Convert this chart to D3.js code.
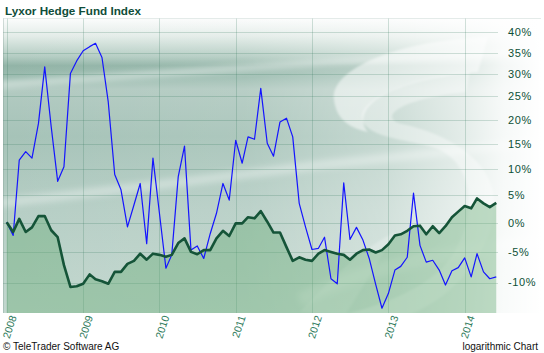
<!DOCTYPE html>
<html>
<head>
<meta charset="utf-8">
<script src="https://cdn.jsdelivr.net/npm/d3@7"></script>
<style>
  body { margin: 0; background: #fff; }
  text { font-family: "Liberation Sans", Arial, sans-serif; }
</style>
</head>
<body>
<script>
//data: monthly values from Jan 2008, percent change (log chart)
var startMonth = "2008-01";
var fundValues = [0.1,-2.2,11.7,13.4,12.1,19.2,31.7,18.5,7.6,10.4,30.2,33.1,
    35.5,36.5,37.3,33.9,23.8,8.9,6.0,-0.7,3.2,7.2,-3.6,12.1,
    1.7,-7.7,-5.5,8.5,14.5,-4.7,-4.0,-6.1,-1.9,1.7,7.2,4.1,
    15.7,11.1,16.4,15.9,26.8,15.1,12.5,19.5,20.3,16.4,3.5,-0.7,
    -4.6,-4.4,-2.5,-9.4,-10.2,7.3,-2.9,-0.8,-3.0,-6.1,-10.3,-14.0,
    -11.7,-8.0,-7.4,-5.9,5.4,-3.9,-6.7,-6.4,-8.0,-10.4,-8.1,-7.6,
    -6.0,-9.1,-5.3,-8.3,-9.4,-9.1];
var indexValues = [0.1,-1.6,0.7,-1.6,-0.8,1.2,1.2,-1.3,-2.5,-7.2,-10.7,-10.6,
    -10.2,-8.7,-9.5,-9.8,-10.2,-8.3,-8.3,-7.0,-6.5,-5.3,-6.3,-5.3,
    -5.5,-5.8,-5.5,-3.5,-2.7,-5.0,-5.4,-4.7,-4.7,-2.7,-1.4,-2.3,
    -0.1,-0.1,1.0,0.8,2.1,0.2,-1.7,-1.7,-4.2,-6.5,-5.9,-6.3,
    -6.5,-5.3,-4.7,-5.0,-5.3,-5.5,-6.3,-5.3,-4.7,-4.6,-5.1,-4.7,
    -3.7,-2.2,-2.0,-1.4,-0.6,-0.5,-2.0,-0.6,-1.8,-0.6,1.0,2.0,
    3.0,2.6,4.4,3.5,2.8,3.6];
var yearLabels = ["2008","2009","2010","2011","2012","2013","2014"];
var yTicks = [-10,-5,0,5,10,15,20,25,30,35,40];

//create svg
var svg = d3.select("body").append("svg")
    .attr("width", 544)
    .attr("height", 353)

//plot box
var plot = {left: 3, top: 18.5, right: 498, bottom: 313};

var parseMonth = d3.timeParse("%Y-%m");
var start = parseMonth(startMonth);
var data = fundValues.map(function(v, i) {
    return {date: d3.timeMonth.offset(start, i), fund: v, index: indexValues[i]};
});

//scales
var x = d3.scaleTime()
    .domain([parseMonth("2008-01"), parseMonth("2014-01")])
    .range([6.7, 464.7]);
var y = d3.scaleLog()
    .domain([0.9, 1.4])
    .range([282.5, 32.3]);
var yv = function(p) { return y(1 + p / 100); };

var defs = svg.append("defs");

//background gradient
var bg = defs.append("linearGradient").attr("id", "bgv")
    .attr("x1", 0).attr("y1", 0).attr("x2", 0).attr("y2", 1);
[[0, "#fbfcfc"], [0.06, "#e3ece8"], [0.13, "#b3ccc2"], [0.16, "#92b4a7"],
 [0.2, "#9dbdb1"], [0.24, "#b2cac1"], [0.4, "#a6c3b8"], [0.65, "#b6cec5"], [1, "#c2d7ce"]]
    .forEach(function(s) { bg.append("stop").attr("offset", s[0]).attr("stop-color", s[1]); });

var fade = defs.append("linearGradient").attr("id", "fadeh")
    .attr("x1", 0).attr("y1", 0).attr("x2", 1).attr("y2", 0);
[[0, 0], [0.45, 0.08], [0.7, 0.35], [0.86, 0.7], [0.93, 0.9], [1, 1]]
    .forEach(function(s) { fade.append("stop").attr("offset", s[0]).attr("stop-color", "#fff").attr("stop-opacity", s[1]); });

defs.append("filter").attr("id", "blur")
    .attr("x", "-20%").attr("y", "-20%").attr("width", "140%").attr("height", "140%")
  .append("feGaussianBlur").attr("stdDeviation", 3);
defs.append("filter").attr("id", "soft")
  .append("feGaussianBlur").attr("stdDeviation", 1);
defs.append("clipPath").attr("id", "clip")
  .append("rect").attr("x", 3).attr("y", plot.top).attr("width", 538).attr("height", plot.bottom - plot.top);

var back = svg.append("g").attr("clip-path", "url(#clip)");
back.append("rect")
    .attr("x", 3).attr("y", plot.top)
    .attr("width", 538).attr("height", plot.bottom - plot.top)
    .attr("fill", "url(#bgv)");

//light streaks
var streaks = [
    {d: "M-20,86 C80,80 200,70 330,62 L560,50", w: 5, o: 0.55},
    {d: "M-20,205 C80,195 200,180 320,165 L560,140", w: 9, o: 0.35},
    {d: "M300,300 C360,270 440,250 560,240", w: 14, o: 0.3}
];
streaks.forEach(function(s) {
    back.append("path").attr("d", s.d)
        .attr("fill", "none").attr("stroke", "#fff")
        .attr("stroke-width", s.w).attr("stroke-opacity", s.o)
        .attr("filter", "url(#blur)");
});

//big S watermark
var logo = back.append("g").attr("filter", "url(#soft)");
logo.append("path")
    .attr("d", "M488,37 C400,40 330,68 334,100 C337,122 352,128 368,132 C352,112 375,82 478,72 Z")
    .attr("fill", "#fff").attr("fill-opacity", 0.5);
logo.append("path")
    .attr("d", "M470,72 C420,76 360,96 362,118 C365,140 420,140 440,150 C480,170 475,230 445,265 C420,292 380,305 340,316 L405,316 C455,300 505,240 492,188 C482,150 432,130 402,124 C380,119 392,100 466,92 Z")
    .attr("fill", "#fff").attr("fill-opacity", 0.38);
logo.append("path")
    .attr("d", "M300,312 C330,280 360,250 395,232 C380,260 360,290 345,316 Z")
    .attr("fill", "#fff").attr("fill-opacity", 0.22);

back.append("rect")
    .attr("x", 3).attr("y", plot.top)
    .attr("width", 538).attr("height", plot.bottom - plot.top)
    .attr("fill", "url(#fadeh)");

//grid
var grid = svg.append("g")
    .attr("stroke", "rgba(50,120,90,0.22)")
    .attr("stroke-width", 1);
yTicks.forEach(function(t) {
    grid.append("line")
        .attr("x1", plot.left).attr("x2", plot.right)
        .attr("y1", Math.round(yv(t)) + 0.5).attr("y2", Math.round(yv(t)) + 0.5);
});
yearLabels.forEach(function(yr) {
    var xx = Math.round(x(parseMonth(yr + "-01"))) + 0.5;
    grid.append("line")
        .attr("x1", xx).attr("x2", xx)
        .attr("y1", plot.top).attr("y2", plot.bottom);
});
grid.append("line")
    .attr("x1", 3.5).attr("x2", 3.5).attr("y1", plot.top).attr("y2", plot.bottom)
    .attr("stroke", "rgba(120,150,140,0.3)");
grid.append("line")
    .attr("x1", 3).attr("x2", 541).attr("y1", plot.top).attr("y2", plot.top)
    .attr("stroke", "rgba(150,180,170,0.25)");

//area under index
var area = d3.area()
    .x(function(d) { return x(d.date); })
    .y0(plot.bottom)
    .y1(function(d) { return yv(d.index); });
svg.append("path")
    .datum(data)
    .attr("fill", "rgb(100,170,115)")
    .attr("fill-opacity", 0.4)
    .attr("d", area);

//lines
var line = function(key) {
    return d3.line()
        .x(function(d) { return x(d.date); })
        .y(function(d) { return yv(d[key]); });
};
svg.append("path")
    .datum(data)
    .attr("fill", "none")
    .attr("stroke", "#1414ff")
    .attr("stroke-width", 1.2)
    .attr("stroke-linejoin", "round")
    .attr("d", line("fund"));
svg.append("path")
    .datum(data)
    .attr("fill", "none")
    .attr("stroke", "#155438")
    .attr("stroke-width", 2.6)
    .attr("stroke-linejoin", "round")
    .attr("d", line("index"));

//y labels
svg.append("g").selectAll("text")
    .data(yTicks)
    .enter().append("text")
    .attr("x", 508)
    .attr("y", function(d) { return yv(d); })
    .attr("dy", "0.36em")
    .attr("fill", "#0d5036")
    .style("font-size", "11px")
    .style("letter-spacing", "0.6px")
    .text(function(d) { return d + "%"; });

//x labels
svg.append("g").selectAll("text")
    .data(yearLabels)
    .enter().append("text")
    .attr("transform", function(d) {
        return "translate(" + (x(parseMonth(d + "-01")) + 10) + ",317) rotate(-72)";
    })
    .attr("text-anchor", "end")
    .attr("fill", "#2d7a5a")
    .style("font-size", "10.5px")
    .text(function(d) { return d; });

//title
svg.append("text")
    .attr("x", 5)
    .attr("y", 15)
    .attr("fill", "#0f4d39")
    .style("font-size", "11.7px")
    .style("font-weight", "bold")
    .text("Lyxor Hedge Fund Index");

//footer
svg.append("text")
    .attr("x", 3)
    .attr("y", 350)
    .attr("fill", "#111")
    .style("font-size", "10px")
    .text("\u00a9 TeleTrader Software AG");
svg.append("text")
    .attr("x", 538)
    .attr("y", 350)
    .attr("text-anchor", "end")
    .attr("fill", "#111")
    .style("font-size", "10px")
    .text("logarithmic Chart");
</script>
</body>
</html>
